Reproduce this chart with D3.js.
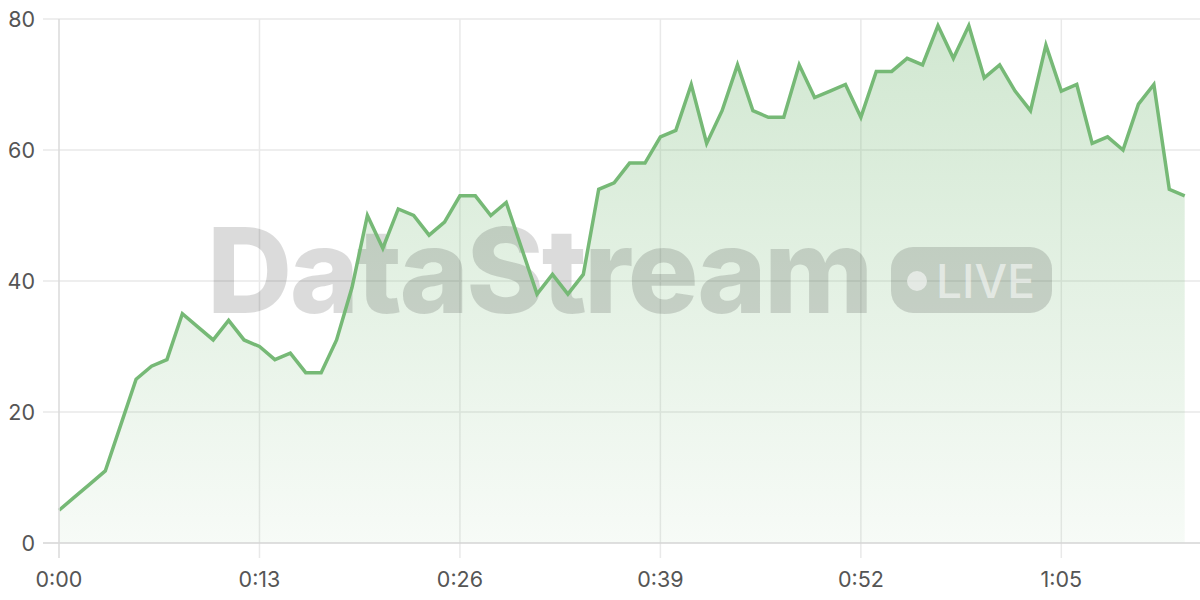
<!DOCTYPE html>
<html lang="en">
  <head>
    <meta charset="UTF-8" />
    <title>DataStream live</title>
    <style>
      body { margin: 0; background: #fff; }
      svg text { font-family: Inter, "Open Sans", sans-serif; }
    </style>
  </head>
  <body>
    <svg width="1200" height="600"></svg>
    <script src="https://d3js.org/d3.v7.min.js"></script>
    <script>
      // one reading per second, 0:00 .. 1:13
      var seconds = d3.range(0, 74);
      var values = [
        5, 7, 9, 11, 18, 25, 27, 28, 35, 33,
        31, 34, 31, 30, 28, 29, 26, 26, 31, 39,
        50, 45, 51, 50, 47, 49, 53, 53, 50, 52,
        45, 38, 41, 38, 41, 54, 55, 58, 58, 62,
        63, 70, 61, 66, 73, 66, 65, 65, 73, 68,
        69, 70, 65, 72, 72, 74, 73, 79, 74, 79,
        71, 73, 69, 66, 76, 69, 70, 61, 62, 60,
        67, 70, 54, 53
      ];
      var xTicks = [0, 13, 26, 39, 52, 65];
      var yTicks = [0, 20, 40, 60, 80];

      var svg = d3.select("svg"),
        width = +svg.attr("width"),
        height = +svg.attr("height");

      var plotLeft = 59, plotTop = 19, plotBottom = 543;

      var x = d3.scaleLinear().domain([0, 73]).range([plotLeft, 1184.7]);
      var y = d3.scaleLinear().domain([0, 80]).range([plotBottom, plotTop]);

      function fmt(s) {
        return Math.floor(s / 60) + ":" + String(s % 60).padStart(2, "0");
      }

      var defs = svg.append("defs");
      var grad = defs.append("linearGradient")
        .attr("id", "fill")
        .attr("gradientUnits", "userSpaceOnUse")
        .attr("x1", 0).attr("x2", 0)
        .attr("y1", y(80)).attr("y2", y(0));
      grad.append("stop").attr("offset", "0%").attr("stop-color", "#76b976").attr("stop-opacity", 0.34);
      grad.append("stop").attr("offset", "100%").attr("stop-color", "#76b976").attr("stop-opacity", 0.06);

      // grid
      svg.append("g")
        .selectAll("line")
        .data(yTicks.filter(function(d) { return d > 0; }))
        .enter().append("line")
        .attr("x1", 43).attr("x2", width)
        .attr("y1", function(d) { return y(d); })
        .attr("y2", function(d) { return y(d); })
        .attr("stroke", "#e9e9e9").attr("stroke-width", 1.5);

      svg.append("g")
        .selectAll("line")
        .data(xTicks.filter(function(d) { return d > 0; }))
        .enter().append("line")
        .attr("x1", function(d) { return x(d); })
        .attr("x2", function(d) { return x(d); })
        .attr("y1", plotTop).attr("y2", plotBottom + 15)
        .attr("stroke", "#e9e9e9").attr("stroke-width", 1.5);

      // area + line
      var area = d3.area()
        .x(function(d, i) { return x(seconds[i]); })
        .y0(y(0))
        .y1(function(d) { return y(d); });

      var line = d3.line()
        .x(function(d, i) { return x(seconds[i]); })
        .y(function(d) { return y(d); });

      svg.append("path")
        .datum(values)
        .attr("d", area)
        .attr("fill", "url(#fill)");

      // watermark
      var wm = svg.append("g").attr("fill", "rgba(0,0,0,0.14)");
      wm.append("text")
        .attr("x", 207).attr("y", 313)
        .attr("font-size", 118)
        .attr("font-weight", 800)
        .attr("letter-spacing", -2.6)
        .text("DataStream");
      wm.append("rect")
        .attr("x", 891).attr("y", 247)
        .attr("width", 161).attr("height", 66)
        .attr("rx", 22);
      svg.append("circle")
        .attr("cx", 917).attr("cy", 281).attr("r", 10)
        .attr("fill", "rgba(255,255,255,0.55)");
      svg.append("text")
        .attr("x", 936).attr("y", 298)
        .attr("font-size", 46)
        .attr("font-weight", 500)
        .attr("fill", "rgba(255,255,255,0.55)")
        .text("LIVE");

      svg.append("path")
        .datum(values)
        .attr("d", line)
        .attr("fill", "none")
        .attr("stroke", "#76b976")
        .attr("stroke-width", 3.5)
        .attr("stroke-linejoin", "miter");

      // axes lines
      svg.append("line")
        .attr("x1", 43).attr("x2", width)
        .attr("y1", plotBottom).attr("y2", plotBottom)
        .attr("stroke", "#d4d4d4").attr("stroke-width", 1.5);
      svg.append("line")
        .attr("x1", plotLeft).attr("x2", plotLeft)
        .attr("y1", plotTop).attr("y2", plotBottom + 15)
        .attr("stroke", "#dadada").attr("stroke-width", 1.5);

      // labels
      svg.append("g")
        .selectAll("text")
        .data(yTicks)
        .enter().append("text")
        .attr("x", 35)
        .attr("y", function(d) { return y(d) + 7.5; })
        .attr("text-anchor", "end")
        .attr("font-size", 21.5)
        .attr("fill", "#555")
        .text(function(d) { return d; });

      svg.append("g")
        .selectAll("text")
        .data(xTicks)
        .enter().append("text")
        .attr("x", function(d) { return x(d); })
        .attr("y", 587)
        .attr("text-anchor", "middle")
        .attr("font-size", 21.5)
        .attr("fill", "#555")
        .text(function(d) { return fmt(d); });
    </script>
  </body>
</html>
